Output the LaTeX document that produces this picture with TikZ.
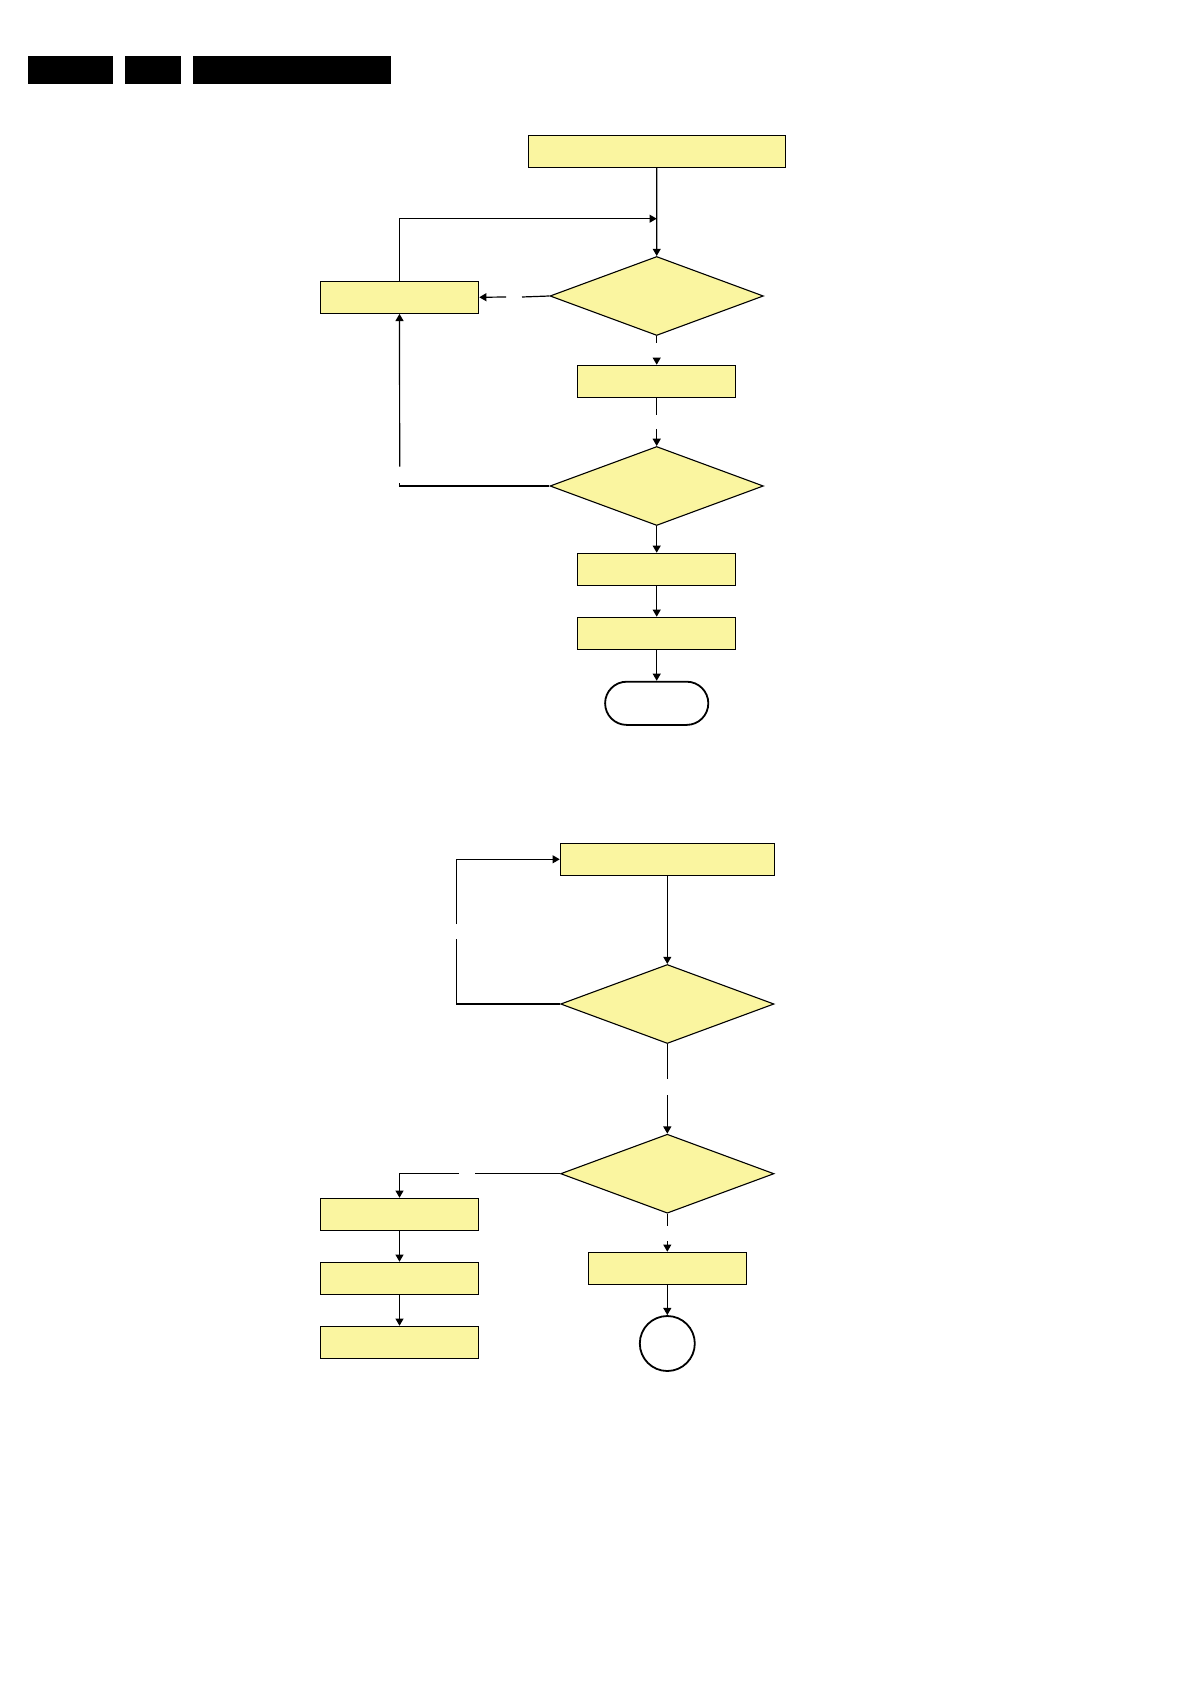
\documentclass[tikz,border=0pt]{standalone}
\usepackage{tikz}
\usetikzlibrary{arrows.meta,shapes.geometric}
\definecolor{boxyellow}{RGB}{250,245,160}

\begin{document}
\begin{tikzpicture}[x=0.5pt,y=-0.5pt,
		procbox/.style={draw, fill=boxyellow, line width=0.55pt, inner sep=0pt, minimum width=79.2pt, minimum height=16pt},
		decision/.style={diamond, draw, fill=boxyellow, line width=0.55pt, inner sep=0pt, minimum width=106.7pt, minimum height=39.5pt},
		arr/.style={-{Triangle[length=3.6pt,width=4pt]}},
		conn/.style={line width=0.6pt}]
		
		\useasboundingbox (0,0) rectangle (1191,1684);
		
		% header bars
		\fill (28,56) rectangle (113,83.7);
		\fill (125,56) rectangle (181,83.7);
		\fill (193,56) rectangle (391,83.7);
		
		% upper flow
		\node[procbox, minimum width=128.5pt] (top) at (656.8,151.3) {};
		\node[decision] (dia1) at (656.7,296) {};
		\node[procbox] (left) at (399.5,297.3) {};
		\node[procbox] (box2) at (656.7,381.3) {};
		\node[decision] (dia2) at (656.7,486) {};
		\node[procbox] (box3) at (656.7,569.3) {};
		\node[procbox] (box4) at (656.7,633.3) {};
		\node[draw, fill=white, line width=0.9pt, rounded corners=10.8pt, minimum width=51.6pt, minimum height=21.6pt] (term) at (656.7,703.3) {};
		
		% gaps in the upper connectors
		\coordinate (g1a) at (522,297);
		\coordinate (g1b) at (506,297);
		\coordinate (g2a) at (656.7,343.3);
		\coordinate (g2b) at (656.7,358);
		\coordinate (g3a) at (656.7,415);
		\coordinate (g3b) at (656.7,429);
		\coordinate (lp1) at (399.7,482.7);
		\coordinate (lp2) at (399.7,466.7);
		\coordinate (join1) at (656.7,218.7);
		
		\begin{scope}[conn]
			\draw[arr] (top) -- (dia1);
			\draw (dia1.west) -- (g1a);
			\draw[arr] (g1b) -- (left.east);
			\draw (dia1.south) -- (g2a);
			\draw[arr] (g2b) -- (box2.north);
			\draw (box2.south) -- (g3a);
			\draw[arr] (g3b) -- (dia2.north);
			\draw (dia2.west) -| (lp1);
			\draw[arr] (lp2) -- (left.south);
			\draw[arr] (left.north) |- (join1);
			\draw[arr] (dia2) -- (box3);
			\draw[arr] (box3) -- (box4);
			\draw[arr] (box4) -- (term);
		\end{scope}
		
		% lower flow
		\node[procbox, minimum width=107.2pt] (box5) at (667.5,859.3) {};
		\node[decision] (dia3) at (667.3,1004) {};
		\node[decision] (dia4) at (667.3,1173.7) {};
		\node[procbox] (box6) at (399.5,1214.3) {};
		\node[procbox] (box7) at (399.5,1278.3) {};
		\node[procbox] (box8) at (399.5,1342.3) {};
		\node[procbox] (box9) at (667.3,1268.3) {};
		\node[draw, circle, fill=white, line width=0.9pt, inner sep=0pt, minimum size=27.5pt] (circ) at (667.3,1343.5) {};
		
		% gaps in the lower connectors
		\coordinate (lp3) at (456.3,939);
		\coordinate (lp4) at (456.3,924);
		\coordinate (g4a) at (667.3,1079);
		\coordinate (g4b) at (667.3,1095);
		\coordinate (g5a) at (475.3,1173.7);
		\coordinate (g5b) at (459,1173.7);
		\coordinate (g6a) at (667.3,1225.7);
		\coordinate (g6b) at (667.3,1241);
		
		\begin{scope}[conn]
			\draw[arr] (box5.south -| dia3.north) -- (dia3.north);
			\draw (dia3.west) -| (lp3);
			\draw[arr] (lp4) |- (box5.west);
			\draw (dia3.south) -- (g4a);
			\draw[arr] (g4b) -- (dia4.north);
			\draw (dia4.west) -- (g5a);
			\draw[arr] (g5b) -| (box6.north);
			\draw[arr] (box6) -- (box7);
			\draw[arr] (box7) -- (box8);
			\draw (dia4.south) -- (g6a);
			\draw[arr] (g6b) -- (box9.north);
			\draw[arr] (box9) -- (circ);
		\end{scope}
		
	\end{tikzpicture}
\end{document}
